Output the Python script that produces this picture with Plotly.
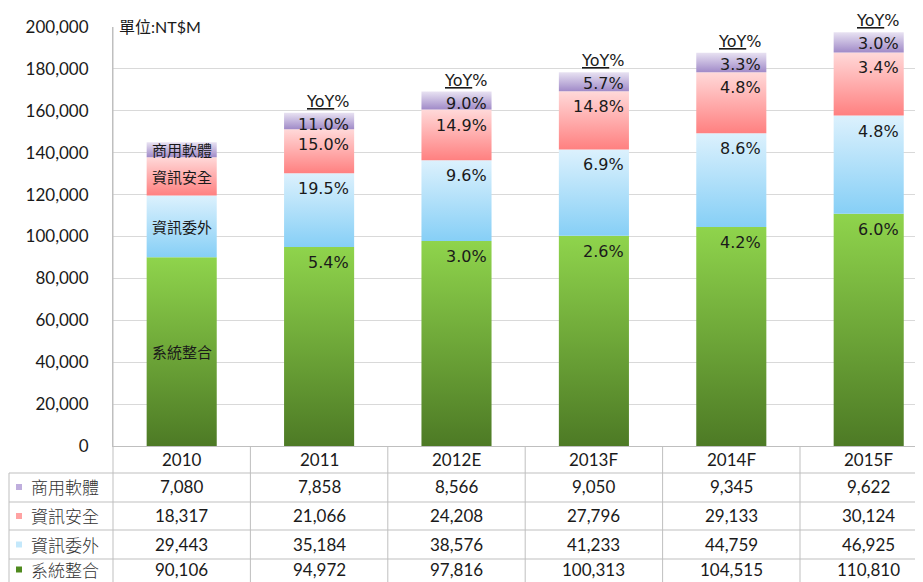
import plotly.graph_objects as go

# ---------------- data ----------------
categories = ["2010", "2011", "2012E", "2013F", "2014F", "2015F"]
series_names = ["系統整合", "資訊委外", "資訊安全", "商用軟體"]  # bottom -> top
sys_integration = [90106, 94972, 97816, 100313, 104515, 110810]
it_outsourcing = [29443, 35184, 38576, 41233, 44759, 46925]
info_security = [18317, 21066, 24208, 27796, 29133, 30124]
biz_software = [7080, 7858, 8566, 9050, 9345, 9622]
yoy_sys = [None, 5.4, 3.0, 2.6, 4.2, 6.0]
yoy_out = [None, 19.5, 9.6, 6.9, 8.6, 4.8]
yoy_sec = [None, 15.0, 14.9, 14.8, 4.8, 3.4]
yoy_sw = [None, 11.0, 9.0, 5.7, 3.3, 3.0]
y_tick_vals = [0, 20000, 40000, 60000, 80000, 100000, 120000, 140000, 160000, 180000, 200000]
unit_label = "單位:NT$M"

series_values = [sys_integration, it_outsourcing, info_security, biz_software]
series_yoy = [yoy_sys, yoy_out, yoy_sec, yoy_sw]
# (bottom colour, top colour) of each series gradient, and legend colour
grad_colors = [
    ("#4d7a25", "#8fd44c"),
    ("#86cff6", "#dcf1fd"),
    ("#ff8080", "#ffd9d9"),
    ("#a08ac8", "#e8e2f2"),
]
legend_colors = ["#4f8a1e", "#c4e8fb", "#ffa3a3", "#bfaedd"]

# ---------------- geometry helpers (layout only) ----------------
OFF = 8                      # page body margin of the html page
W, H = 923 - OFF, 582 - OFF
ML, MT, MB = 113 - OFF, 27 - OFF, 136
PLOT_H = H - MT - MB
PLOT_W = W - ML
COL_W = 137.4
X_MAX = -0.5 + PLOT_W / COL_W
HALF = 0.255


def py(p):
    """screen pixel y -> paper y"""
    return (H - MB - (p - OFF)) / PLOT_H


def px(p):
    """screen pixel x -> paper x"""
    return (p - OFF - ML) / PLOT_W


TXT = "#1a1a1a"
GRID = "#d9d9d9"
LINE = "#bfbfbf"

fig = go.Figure()
annotations = []

# stacked bars as gradient-filled shapes driven by the data
base = [0] * len(categories)
for s, (name, vals, yoy, (cb, ct)) in enumerate(zip(series_names, series_values, series_yoy, grad_colors)):
    for i, v in enumerate(vals):
        y0, y1 = base[i], base[i] + v
        fig.add_trace(go.Scatter(
            x=[i - HALF, i + HALF, i + HALF, i - HALF, i - HALF],
            y=[y0, y0, y1, y1, y0],
            mode="lines", fill="toself",
            line=dict(width=0, color="rgba(0,0,0,0)"),
            fillgradient=dict(type="vertical", colorscale=[[0, cb], [1, ct]]),
            name=name, showlegend=False, hoverinfo="skip",
        ))
        if yoy[i] is not None:
            annotations.append(dict(
                x=i + HALF, y=y1, xref="x", yref="y", xanchor="right", yanchor="top",
                xshift=-3, yshift=0 if s == 3 else -4, showarrow=False,
                text=f"{yoy[i]:.1f}%",
                font=dict(family="DejaVu Sans", size=16, color=TXT)))
        else:
            annotations.append(dict(
                x=i, y=(y0 + y1) / 2, xref="x", yref="y", xanchor="center", yanchor="middle",
                showarrow=False, text=name,
                font=dict(family="Noto Sans CJK TC", size=15, color=TXT)))
        base[i] = y1

# YoY% headers above bars
for i, total in enumerate(base):
    if yoy_sys[i] is None:
        continue
    annotations.append(dict(
        x=i + HALF, y=total, xref="x", yref="y", xanchor="right", yanchor="bottom",
        xshift=-3, yshift=0, showarrow=False, text="<u>YoY</u>%",
        font=dict(family="DejaVu Sans", size=16, color=TXT)))

# unit label
annotations.append(dict(x=px(117), y=py(26), xref="paper", yref="paper", xanchor="left", yanchor="middle",
                        showarrow=False, text=unit_label,
                        font=dict(family="Lato, Noto Sans CJK TC", size=16, color=TXT)))

# ---------------- data table ----------------
shapes = []
BOTTOM = py(600)
row_lines = [473, 502, 530, 559]
for p in row_lines:
    shapes.append(dict(type="line", xref="paper", yref="paper", x0=px(9), x1=1.0,
                       y0=py(p), y1=py(p), line=dict(color=LINE, width=1)))
shapes.append(dict(type="line", xref="paper", yref="paper", x0=px(9), x1=px(9),
                   y0=py(473), y1=BOTTOM, line=dict(color=LINE, width=1)))
shapes.append(dict(type="line", xref="paper", yref="paper", x0=0, x1=0,
                   y0=1, y1=BOTTOM, line=dict(color=LINE, width=1)))
for i in range(len(categories)):
    shapes.append(dict(type="line", xref="x", yref="paper", x0=i + 0.5, x1=i + 0.5,
                       y0=0, y1=BOTTOM, line=dict(color=LINE, width=1)))

for i, c in enumerate(categories):
    annotations.append(dict(x=i, y=py(459.5), xref="x", yref="paper", xanchor="center",
                            yanchor="middle", showarrow=False,
                            text=c, font=dict(family="Lato", size=17, color=TXT)))

row_centers = [487, 516, 544.5, 569.5]
table_order = [3, 2, 1, 0]  # top row = 商用軟體
for r, s in enumerate(table_order):
    yc = py(row_centers[r])
    shapes.append(dict(type="rect", xref="paper", yref="paper",
                       x0=px(16), x1=px(22), y0=yc - 3 / PLOT_H, y1=yc + 3 / PLOT_H,
                       fillcolor=legend_colors[s], line=dict(width=0)))
    annotations.append(dict(x=px(29), y=yc, xref="paper", yref="paper", xanchor="left",
                            yanchor="middle", showarrow=False, text=series_names[s],
                            font=dict(family="Noto Sans CJK TC", size=17, color="#333333",
                                      weight=300)))
    for i, v in enumerate(series_values[s]):
        annotations.append(dict(x=i, y=yc, xref="x", yref="paper", xanchor="center",
                                yanchor="middle", showarrow=False,
                                text=f"{v:,}", font=dict(family="Lato", size=17, color=TXT)))

fig.update_layout(
    width=W, height=H,
    margin=dict(l=ML, r=0, t=MT, b=MB, pad=0, autoexpand=False),
    plot_bgcolor="white", paper_bgcolor="white",
    showlegend=False,
    annotations=annotations, shapes=shapes,
    xaxis=dict(range=[-0.5, X_MAX], showticklabels=False, showgrid=False, zeroline=False,
               showline=True, linecolor=LINE, linewidth=1, fixedrange=True),
    yaxis=dict(range=[0, 200000], tickvals=y_tick_vals, tickformat=",", showgrid=True,
               gridcolor=GRID, gridwidth=1, zeroline=False, showline=True, linecolor=LINE,
               linewidth=1, ticks="", ticklabelstandoff=20, automargin=False,
               tickfont=dict(family="Lato", size=17, color=TXT), fixedrange=True),
)

fig.write_html("out.html")
